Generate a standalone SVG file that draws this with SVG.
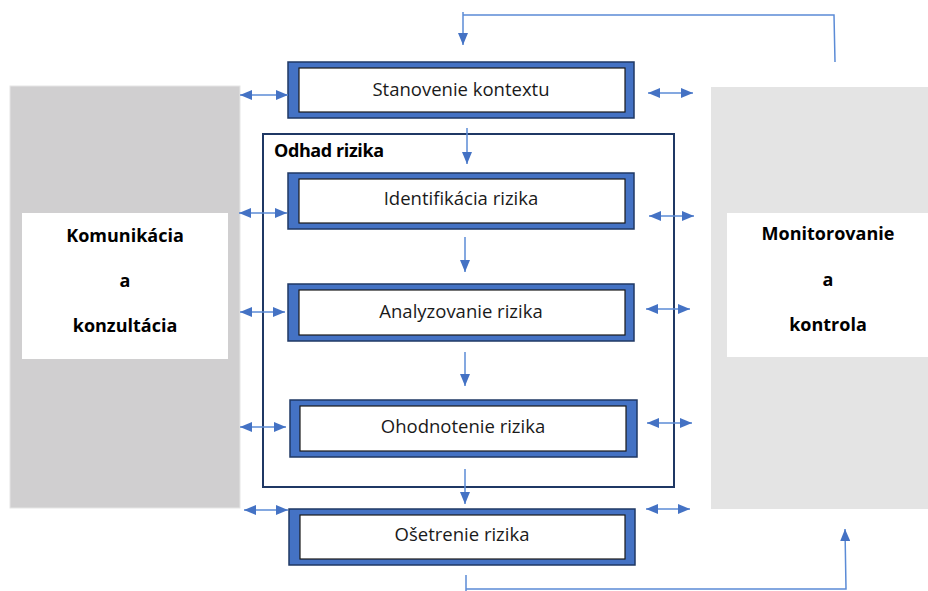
<svg xmlns="http://www.w3.org/2000/svg" width="928" height="591" viewBox="0 0 928 591">
<style>
.panelL{fill:#d0cfd0;stroke:#e6e6e6;stroke-width:1}
.panelR{fill:#e4e4e4}
.inner{fill:#ffffff}
.outerBox{fill:#4472c4;stroke:#1f3864;stroke-width:1.5}
.innerBox{fill:#ffffff;stroke:#1a1a1a;stroke-width:1.2}
.frame{fill:none;stroke:#1f3864;stroke-width:2}
.lbl{font-family:"Open Sans","Noto Sans",sans-serif;font-size:18.5px;fill:#1a1a1a;text-anchor:middle}
.side{font-family:"Open Sans","Noto Sans",sans-serif;font-size:18px;font-weight:bold;fill:#000;text-anchor:middle}
.title{font-family:"Open Sans","Noto Sans",sans-serif;font-size:18px;font-weight:bold;fill:#000;letter-spacing:-0.4px}
.conn{fill:none;stroke:#5b8bd6;stroke-width:1.5}
.arr{marker-end:url(#ah)}
.darr{marker-start:url(#ah);marker-end:url(#ah)}
</style>
<defs>
<marker id="ah" viewBox="0 0 12 10" refX="12" refY="5" markerWidth="12" markerHeight="10" orient="auto-start-reverse" markerUnits="userSpaceOnUse">
<path d="M0,0 L12,5 L0,10 z" fill="#4472c4"/>
</marker>
</defs>

<g id="komunikacia">
<rect class="panelL" x="10" y="86" width="230" height="422"/>
<rect class="inner" x="22" y="213" width="206" height="146"/>
<text class="side" x="125" y="242">Komunikácia</text>
<text class="side" x="125" y="287">a</text>
<text class="side" x="125" y="332">konzultácia</text>
</g>

<g id="monitorovanie">
<rect class="panelR" x="711" y="87" width="217" height="422"/>
<rect class="inner" x="727" y="213" width="201" height="144"/>
<text class="side" x="828" y="240">Monitorovanie</text>
<text class="side" x="828" y="286">a</text>
<text class="side" x="828" y="331">kontrola</text>
</g>

<g id="odhad-rizika">
<rect class="frame" x="263" y="134" width="411" height="353"/>
<text class="title" x="274" y="157">Odhad rizika</text>
</g>

<g id="stanovenie">
<rect class="outerBox" x="288" y="62" width="346" height="56"/>
<rect class="innerBox" x="299" y="68" width="326" height="44"/>
<text class="lbl" x="461" y="96">Stanovenie kontextu</text>
</g>

<g id="identifikacia">
<rect class="outerBox" x="288" y="173" width="346" height="56"/>
<rect class="innerBox" x="299" y="179" width="326" height="44"/>
<text class="lbl" x="461" y="205">Identifikácia rizika</text>
</g>

<g id="analyzovanie">
<rect class="outerBox" x="288" y="284" width="346" height="57"/>
<rect class="innerBox" x="299" y="290" width="326" height="45"/>
<text class="lbl" x="461" y="318">Analyzovanie rizika</text>
</g>

<g id="ohodnotenie">
<rect class="outerBox" x="290" y="400" width="347" height="57"/>
<rect class="innerBox" x="300" y="406" width="326" height="45"/>
<text class="lbl" x="463" y="433">Ohodnotenie rizika</text>
</g>

<g id="osetrenie">
<rect class="outerBox" x="289" y="509" width="346" height="56"/>
<rect class="innerBox" x="300" y="515" width="325" height="44"/>
<text class="lbl" x="462" y="541">Ošetrenie rizika</text>
</g>

<g id="connectors">
<path class="conn" d="M835,62 L834,15 L463,15"/>
<path class="conn arr" d="M463,12 L463,45"/>
<path class="conn arr" d="M467,128 L467,164"/>
<path class="conn arr" d="M465,237 L465,272"/>
<path class="conn arr" d="M465,352 L465,386"/>
<path class="conn arr" d="M465,469 L465,504"/>
<path class="conn" d="M466,575 L466,591"/>
<path class="conn arr" d="M466,589 L846,589 L845,529"/>

<path class="conn darr" d="M240,95 L288,95"/>
<path class="conn darr" d="M239,213 L287,213"/>
<path class="conn darr" d="M240,312 L285,312"/>
<path class="conn darr" d="M240,427 L286,427"/>
<path class="conn darr" d="M244,510 L288,510"/>

<path class="conn darr" d="M648,93 L693,93"/>
<path class="conn darr" d="M649,216 L694,216"/>
<path class="conn darr" d="M646,309 L690,309"/>
<path class="conn darr" d="M647,423 L692,423"/>
<path class="conn darr" d="M646,509 L690,509"/>
</g>
</svg>
